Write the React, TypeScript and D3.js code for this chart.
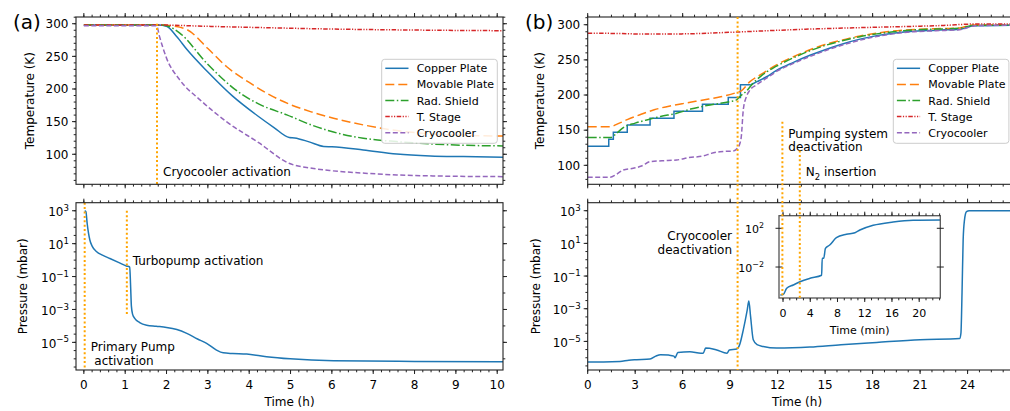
import React from "react";
import * as d3 from "d3";

type P = [number, number];

// ---------- (a) cool-down: time (h) vs temperature (K) ----------
const aCopper: P[] = [[0, 298], [1.8, 298], [2.0, 296], [2.25, 280], [2.5, 260], [3.0, 226], [3.6, 189], [4.2, 159], [4.6, 141], [4.97, 125.6], [5.1, 125], [5.45, 119], [5.8, 112], [6.0, 111.5], [6.76, 106.7], [7.57, 100.5], [8.38, 97.5], [9.18, 96.4], [10.2, 95.4]];
const aMovable: P[] = [[0, 298], [1.9, 298], [2.1, 297], [2.5, 290.8], [3.0, 262], [3.45, 234.5], [4.0, 210], [4.42, 193.6], [5.0, 176], [5.5, 165], [6.04, 155.3], [6.76, 145], [7.57, 136.3], [8.38, 131.2], [9.2, 129], [10.2, 128]];
const aShield: P[] = [[0, 298], [1.85, 298], [2.0, 297], [2.32, 285.7], [2.97, 239.7], [3.78, 193.6], [4.3, 175], [4.91, 160.4], [5.5, 145], [6.04, 134], [6.76, 124.6], [7.57, 119.4], [8.38, 115.9], [9.18, 113.8], [10.2, 112.8]];
const aStage: P[] = [[0, 298], [1.8, 298], [3.0, 296], [4.0, 294.5], [6.04, 291.8], [8.0, 290.3], [10.2, 289.3]];
const aCryo: P[] = [[0, 297], [1.76, 297], [1.83, 280.6], [2.0, 247.3], [2.32, 214], [2.81, 183.4], [3.45, 150], [4.25, 116.9], [4.96, 86.2], [5.52, 78.6], [5.96, 75], [6.8, 71], [7.57, 68.3], [8.5, 66.8], [10.2, 65.7]];

// ---------- (a) pumping: time (h) vs pressure (mbar) ----------
const aPressure: P[] = [[0.02, 1000], [0.05, 890], [0.08, 170], [0.145, 16.6], [0.2, 7.1], [0.31, 3.2], [0.45, 2.0], [0.63, 1.26], [0.85, 0.71], [1.03, 0.44], [1.11, 0.38], [1.13, 0.032], [1.15, 1.6e-3], [1.18, 5e-4], [1.23, 2.9e-4], [1.35, 1.6e-4], [1.52, 1.1e-4], [1.75, 9.5e-5], [2.0, 8.1e-5], [2.25, 6e-5], [2.49, 3.5e-5], [2.75, 1.6e-5], [2.97, 8.7e-6], [3.2, 3.5e-6], [3.37, 2.3e-6], [3.6, 2.1e-6], [3.94, 1.95e-6], [4.42, 1.35e-6], [4.99, 1.0e-6], [6.04, 7.6e-7], [8.0, 6.9e-7], [10.2, 6.6e-7]];

// ---------- (b) warm-up: time (h) vs temperature (K) ----------
const bCopperSteps: P[] = [[0, 127], [1.33, 137], [1.62, 147], [2.5, 157.5], [3.94, 167], [5.45, 177], [7.25, 187], [8.88, 196.5], [9.65, 214.5], [10.3, 214.5]];
const bCopperWarm: P[] = [[10.3, 214.5], [10.7, 219], [11.3, 226], [11.93, 235], [13.0, 246.5], [14.04, 256.5], [15.0, 264.5], [16.15, 273], [17.2, 279.5], [18.26, 284.5], [19.3, 288], [20.36, 290.5], [22.0, 292.3], [23.5, 293.7], [24.4, 298.5], [27, 299.5]];
const bMovable: P[] = [[0, 155], [1.4, 155], [2.0, 160], [2.5, 165], [3.3, 172], [4.2, 179], [5.2, 184.5], [6.3, 189], [7.3, 193], [8.4, 197.5], [9.4, 203.5], [9.7, 206], [10.25, 219], [11.0, 230], [11.93, 243], [13.0, 254.5], [14.04, 264.4], [15.0, 272], [16.15, 278.6], [17.2, 284], [18.26, 288], [19.3, 291], [20.36, 292.9], [22.0, 294.3], [23.5, 295.5], [24.3, 299.5], [27, 300]];
const bShield: P[] = [[0, 139.5], [1.45, 139.5], [1.8, 145], [2.25, 153.7], [3.0, 160], [3.73, 164.6], [4.6, 169.5], [5.62, 174], [6.5, 180], [7.52, 185], [8.99, 190.7], [9.4, 193], [9.62, 198], [10.0, 205], [10.46, 217], [11.0, 228], [11.93, 241], [13.0, 253], [14.04, 263], [15.0, 270.5], [16.15, 277.5], [17.2, 283], [18.26, 287], [19.3, 290], [20.36, 292.3], [22.0, 293.8], [23.5, 295], [24.3, 299], [27, 299.5]];
const bStage: P[] = [[0, 288], [2.0, 287.5], [3.5, 286.7], [6.0, 287], [9.4, 289.6], [11.9, 292], [14.0, 293.8], [16.15, 295.2], [18.3, 296.5], [20.36, 297.6], [22.5, 299], [24.4, 301], [27, 301]];
const bCryo: P[] = [[0, 83], [1.4, 83], [1.8, 87], [2.25, 93.4], [2.88, 95.8], [3.4, 99], [3.94, 105.2], [4.7, 106.5], [5.62, 107.6], [6.4, 111], [7.3, 113.3], [7.8, 117], [8.36, 119.4], [9.2, 120.5], [9.45, 124.3], [9.6, 130], [9.7, 140], [9.83, 179], [10.0, 196], [10.25, 207], [10.67, 214.5], [11.3, 224], [11.93, 233.5], [13.0, 245], [14.04, 254.8], [15.0, 263], [16.15, 271.5], [17.2, 278], [18.26, 283.3], [19.3, 287], [20.36, 289.6], [22.0, 291.5], [23.5, 292.9], [24.5, 298.6], [27, 299.5]];

// ---------- (b) pressure (mbar) ----------
const bPressure: P[] = [[0, 5.5e-7], [1.0, 5.5e-7], [2.04, 5.8e-7], [2.6, 7.1e-7], [3.1, 7.6e-7], [3.94, 8.3e-7], [4.3, 1.26e-6], [4.6, 1.55e-6], [5.1, 1.45e-6], [5.45, 1.26e-6], [5.52, 1.0e-6], [5.7, 2.1e-6], [6.46, 2.35e-6], [7.15, 1.9e-6], [7.3, 1.9e-6], [7.45, 3.9e-6], [7.7, 3.8e-6], [8.15, 3.0e-6], [8.8, 1.9e-6], [8.95, 3.0e-6], [9.41, 3.4e-6], [9.6, 6.3e-6], [9.83, 5.1e-5], [10.08, 8.5e-4], [10.18, 3.0e-3], [10.29, 3.4e-4], [10.46, 1.26e-5], [10.7, 6.3e-6], [11.09, 4.9e-6], [11.93, 3.9e-6], [14.04, 4.5e-6], [16.0, 6.3e-6], [18.26, 8.7e-6], [21.0, 1.26e-5], [23.5, 1.5e-5], [23.58, 3.2e-5], [23.65, 0.01], [23.72, 16], [23.8, 250], [23.93, 870], [24.1, 1000], [27, 1000]];
// inset: time (min) vs pressure (mbar)
const bInset: P[] = [[-0.4, 1.26e-5], [0.05, 1.5e-5], [0.54, 6.3e-5], [1.51, 1.4e-4], [2.49, 3.0e-4], [3.96, 6.8e-4], [5.67, 1.4e-3], [5.76, 0.079], [5.98, 0.079], [6.23, 0.85], [6.86, 1.86], [7.84, 10.7], [9.31, 24], [10.56, 35], [11.29, 66], [13.24, 204], [16.17, 447], [19.1, 676], [23.2, 724]];

// events (h)
const aPrimaryPump = 0.02;
const aTurbo = 1.04;
const aCryoOn = 1.77;
const bCryoOff = 9.47;
const bPumpOff = 12.3;
const bN2 = 13.4;

// legend + ticks
const seriesNames = ["Copper Plate", "Movable Plate", "Rad. Shield", "T. Stage", "Cryocooler"];
const seriesColors = ["#1f77b4", "#ff7f0e", "#2ca02c", "#d62728", "#9467bd"];
const seriesDash = ["", "9,4", "9,2.5,1.5,2.5", "4.5,1.5,1.2,1.5,1.2,1.5", "5,2.5"];
const aXMajor = [0, 1, 2, 3, 4, 5, 6, 7, 8, 9, 10];
const bXMajor = [0, 3, 6, 9, 12, 15, 18, 21, 24];
const tempMajor = [100, 150, 200, 250, 300];
const presMajorExp = [3, 1, -1, -3, -5];
const insetXMajor = [0, 4, 8, 12, 16, 20];
const insetYMajorExp = [2, -2];

const FONT = "DejaVu Sans, Verdana, sans-serif";
const FRAME = "#222";
const VLINE = "#ffa500";

// layout
const LX: P = [76, 503];
const RX: P = [587.7, 1013.8];
const TY: P = [17, 184.3];
const BY: P = [202.7, 370];
const IX: P = [779, 940.3];
const IY: P = [215.7, 298];

const xA = d3.scaleLinear().domain([-0.19, 10.14]).range(LX);
const xB = d3.scaleLinear().domain([0, 26.92]).range(RX);
const yAT = d3.scaleLinear().domain([54, 310.3]).range([TY[1], TY[0]]);
const yBT = d3.scaleLinear().domain([73, 311]).range([TY[1], TY[0]]);
const yAB = d3.scaleLog().domain([10 ** -6.68, 10 ** 3.49]).range([BY[1], BY[0]]);
const yBB = d3.scaleLog().domain([10 ** -6.75, 10 ** 3.49]).range([BY[1], BY[0]]);
const xI = d3.scaleLinear().domain([-0.59, 23.1]).range(IX);
const yI = d3.scaleLog().domain([10 ** -5.2, 10 ** 3.3]).range([IY[1], IY[0]]);

const steps = (a: number, b: number, s: number) => {
  const out: number[] = [];
  for (let i = 0; a + i * s <= b + 1e-9; i++) out.push(+(a + i * s).toFixed(4));
  return out;
};

const inDomain = (sc: any, v: number) => {
  const [a, b] = sc.domain();
  return v >= Math.min(a, b) - 1e-9 && v <= Math.max(a, b) + 1e-9;
};

function xTicks(sc: any, vals: number[], y: number, dir: number, len: number) {
  return vals.filter((v) => inDomain(sc, v)).map((v) => `M${sc(v)},${y}v${dir * len}`).join("");
}
function yTicks(sc: any, vals: number[], x: number, dir: number, len: number) {
  return vals.filter((v) => inDomain(sc, v)).map((v) => `M${x},${sc(v)}h${dir * len}`).join("");
}

const line = (xs: any, ys: any, curve: any = d3.curveMonotoneX) =>
  d3.line<P>().x((d) => xs(d[0])).y((d) => ys(d[1])).curve(curve);

function Sup({ e, size }: { e: number; size: number }) {
  return (
    <>
      10
      <tspan dy={-size * 0.45} fontSize={size * 0.72}>
        {e < 0 ? `\u2212${-e}` : `${e}`}
      </tspan>
    </>
  );
}

function Legend({ x, y }: { x: number; y: number }) {
  return (
    <g>
      <rect x={x} y={y} width={115.6} height={84} rx={3} fill="white" fillOpacity={0.85} stroke="#cccccc" strokeWidth={1} />
      {seriesNames.map((n, i) => {
        const cy = y + 9 + i * 16.1;
        return (
          <g key={n}>
            <line x1={x + 3.6} x2={x + 26.8} y1={cy} y2={cy} stroke={seriesColors[i]} strokeWidth={1.5} strokeDasharray={seriesDash[i]} />
            <text x={x + 35} y={cy + 4} fontSize={11} fontFamily={FONT}>
              {n}
            </text>
          </g>
        );
      })}
    </g>
  );
}

function Frame({ xr, yr }: { xr: P; yr: P }) {
  return <rect x={xr[0]} y={yr[0]} width={xr[1] - xr[0]} height={yr[1] - yr[0]} fill="none" stroke={FRAME} strokeWidth={1.1} />;
}

export default function App() {
  const tempMinor = steps(60, 310, 10);
  const aXMinor = steps(0, 10.2, 0.2);
  const bXMinor = steps(0, 26.25, 0.75);
  const presHalf = steps(-6.5, 3.0, 0.5).map((e) => 10 ** e);
  const presDecade = steps(-6, 3, 1).map((e) => 10 ** e);
  const presMajor = presMajorExp.map((e) => 10 ** e);
  const insetXMinor = steps(0, 23, 1);
  const insetYMajor = insetYMajorExp.map((e) => 10 ** e);

  const aTemps = [aCopper, aMovable, aShield, aStage, aCryo];
  const bTemps = [null, bMovable, bShield, bStage, bCryo];

  const MAJ = 4;
  const MIN = 2.3;
  const tickStyle = { stroke: FRAME, strokeWidth: 1, fill: "none" };

  const vDotted = { stroke: VLINE, strokeWidth: 2, strokeDasharray: "2,2.4" };

  return (
    <div style={{ position: "absolute", left: 0, top: 0 }}>
      <svg width={1010} height={411} style={{ display: "block", background: "white" }} fontFamily={FONT}>
        <defs>
          <clipPath id="cAT"><rect x={LX[0]} y={TY[0]} width={LX[1] - LX[0]} height={TY[1] - TY[0]} /></clipPath>
          <clipPath id="cAB"><rect x={LX[0]} y={BY[0]} width={LX[1] - LX[0]} height={BY[1] - BY[0]} /></clipPath>
          <clipPath id="cBT"><rect x={RX[0]} y={TY[0]} width={RX[1] - RX[0]} height={TY[1] - TY[0]} /></clipPath>
          <clipPath id="cBB"><rect x={RX[0]} y={BY[0]} width={RX[1] - RX[0]} height={BY[1] - BY[0]} /></clipPath>
          <clipPath id="cI"><rect x={IX[0]} y={IY[0]} width={IX[1] - IX[0]} height={IY[1] - IY[0]} /></clipPath>
        </defs>

        {/* ===================== (a) ===================== */}
        <text x={13} y={29} fontSize={20}>(a)</text>

        {/* top: temperatures */}
        <g clipPath="url(#cAT)">
          {aTemps.map((s, i) => (
            <path key={i} d={line(xA, yAT)(s) || ""} fill="none" stroke={seriesColors[i]} strokeWidth={1.5} strokeDasharray={seriesDash[i]} />
          ))}
          <line x1={xA(aCryoOn)} x2={xA(aCryoOn)} y1={yAT(300)} y2={TY[1]} {...vDotted} />
        </g>
        <Frame xr={LX} yr={TY} />
        <path d={xTicks(xA, aXMajor, TY[1], 1, MAJ) + xTicks(xA, aXMajor, TY[0], -1, MAJ)} {...tickStyle} />
        <path d={xTicks(xA, aXMinor, TY[1], 1, MIN) + xTicks(xA, aXMinor, TY[0], -1, MIN)} {...tickStyle} />
        <path d={yTicks(yAT, tempMajor, LX[0], -1, MAJ) + yTicks(yAT, tempMajor, LX[1], 1, MAJ)} {...tickStyle} />
        <path d={yTicks(yAT, tempMinor, LX[0], -1, MIN) + yTicks(yAT, tempMinor, LX[1], 1, MIN)} {...tickStyle} />
        {tempMajor.map((v) => (
          <text key={v} x={LX[0] - 7.5} y={yAT(v) + 4.3} fontSize={12} textAnchor="end">{v}</text>
        ))}
        <text transform={`translate(33.5,${(TY[0] + TY[1]) / 2}) rotate(-90)`} fontSize={12} textAnchor="middle">Temperature (K)</text>
        <text x={163} y={176} fontSize={12}>Cryocooler activation</text>
        <Legend x={381.7} y={59.3} />

        {/* bottom: pressure */}
        <g clipPath="url(#cAB)">
          <path d={line(xA, yAB)(aPressure) || ""} fill="none" stroke={seriesColors[0]} strokeWidth={1.5} />
          <line x1={xA(aPrimaryPump)} x2={xA(aPrimaryPump)} y1={BY[0]} y2={BY[1]} {...vDotted} />
          <line x1={xA(aTurbo)} x2={xA(aTurbo)} y1={yAB(1000)} y2={yAB(5e-4)} {...vDotted} />
        </g>
        <Frame xr={LX} yr={BY} />
        <path d={xTicks(xA, aXMajor, BY[1], 1, MAJ) + xTicks(xA, aXMajor, BY[0], -1, MAJ)} {...tickStyle} />
        <path d={xTicks(xA, aXMinor, BY[1], 1, MIN) + xTicks(xA, aXMinor, BY[0], -1, MIN)} {...tickStyle} />
        <path d={yTicks(yAB, presMajor, LX[0], -1, MAJ) + yTicks(yAB, presMajor, LX[1], 1, MAJ)} {...tickStyle} />
        <path d={yTicks(yAB, presHalf, LX[0], -1, MIN) + yTicks(yAB, presDecade, LX[1], 1, MIN)} {...tickStyle} />
        {presMajorExp.map((e) => (
          <text key={e} x={LX[0] - 7} y={yAB(10 ** e) + 5.5} fontSize={12} textAnchor="end"><Sup e={e} size={12} /></text>
        ))}
        {aXMajor.map((v) => (
          <text key={v} x={xA(v)} y={388.7} fontSize={12} textAnchor="middle">{v}</text>
        ))}
        <text transform={`translate(26.5,${(BY[0] + BY[1]) / 2}) rotate(-90)`} fontSize={12} textAnchor="middle">Pressure (mbar)</text>
        <text x={(LX[0] + LX[1]) / 2} y={405.5} fontSize={12} textAnchor="middle">Time (h)</text>
        <text x={132.7} y={265} fontSize={12}>Turbopump activation</text>
        <text x={90.7} y={350.5} fontSize={12}>Primary Pump</text>
        <text x={94.3} y={364.5} fontSize={12}>activation</text>

        {/* ===================== (b) ===================== */}
        <text x={525} y={29} fontSize={20}>(b)</text>

        <g clipPath="url(#cBT)">
          <path d={line(xB, yBT, d3.curveStepAfter)(bCopperSteps) || ""} fill="none" stroke={seriesColors[0]} strokeWidth={1.5} />
          <path d={line(xB, yBT)(bCopperWarm) || ""} fill="none" stroke={seriesColors[0]} strokeWidth={1.5} />
          {bTemps.map((s, i) =>
            s ? (
              <path key={i} d={line(xB, yBT)(s) || ""} fill="none" stroke={seriesColors[i]} strokeWidth={1.5} strokeDasharray={seriesDash[i]} />
            ) : null
          )}
        </g>
        <Frame xr={RX} yr={TY} />
        <path d={xTicks(xB, bXMajor, TY[1], 1, MAJ) + xTicks(xB, bXMajor, TY[0], -1, MAJ)} {...tickStyle} />
        <path d={xTicks(xB, bXMinor, TY[1], 1, MIN) + xTicks(xB, bXMinor, TY[0], -1, MIN)} {...tickStyle} />
        <path d={yTicks(yBT, tempMajor, RX[0], -1, MAJ)} {...tickStyle} />
        <path d={yTicks(yBT, tempMinor, RX[0], -1, MIN)} {...tickStyle} />
        {tempMajor.map((v) => (
          <text key={v} x={RX[0] - 7.5} y={yBT(v) + 4.3} fontSize={12} textAnchor="end">{v}</text>
        ))}
        <text transform={`translate(543.7,${(TY[0] + TY[1]) / 2}) rotate(-90)`} fontSize={12} textAnchor="middle">Temperature (K)</text>
        <Legend x={893.3} y={59.3} />
        <text x={788.3} y={138.3} fontSize={12}>Pumping system</text>
        <text x={788.3} y={151.3} fontSize={12}>deactivation</text>
        <text x={805.7} y={176} fontSize={12}>
          N<tspan dy={3.5} fontSize={8.5}>2</tspan>
          <tspan dy={-3.5}> insertion</tspan>
        </text>

        <g clipPath="url(#cBB)">
          <path d={line(xB, yBB)(bPressure) || ""} fill="none" stroke={seriesColors[0]} strokeWidth={1.5} />
        </g>
        <Frame xr={RX} yr={BY} />
        <path d={xTicks(xB, bXMajor, BY[1], 1, MAJ) + xTicks(xB, bXMajor, BY[0], -1, MAJ)} {...tickStyle} />
        <path d={xTicks(xB, bXMinor, BY[1], 1, MIN) + xTicks(xB, bXMinor, BY[0], -1, MIN)} {...tickStyle} />
        <path d={yTicks(yBB, presMajor, RX[0], -1, MAJ)} {...tickStyle} />
        <path d={yTicks(yBB, presHalf, RX[0], -1, MIN)} {...tickStyle} />
        {presMajorExp.map((e) => (
          <text key={e} x={RX[0] - 7} y={yBB(10 ** e) + 5.5} fontSize={12} textAnchor="end"><Sup e={e} size={12} /></text>
        ))}
        {bXMajor.map((v) => (
          <text key={v} x={xB(v)} y={388.7} fontSize={12} textAnchor="middle">{v}</text>
        ))}
        <text transform={`translate(540,${(BY[0] + BY[1]) / 2}) rotate(-90)`} fontSize={12} textAnchor="middle">Pressure (mbar)</text>
        <text x={797} y={405.5} fontSize={12} textAnchor="middle">Time (h)</text>
        <text x={732} y={240} fontSize={12} textAnchor="end">Cryocooler</text>
        <text x={732} y={253.5} fontSize={12} textAnchor="end">deactivation</text>

        {/* inset */}
        <rect x={IX[0]} y={IY[0]} width={IX[1] - IX[0]} height={IY[1] - IY[0]} fill="white" />
        <g clipPath="url(#cI)">
          <path d={line(xI, yI)(bInset) || ""} fill="none" stroke={seriesColors[0]} strokeWidth={1.5} />
        </g>
        <rect x={IX[0]} y={IY[0]} width={IX[1] - IX[0]} height={IY[1] - IY[0]} fill="none" stroke="#555" strokeWidth={1.3} />
        <path d={xTicks(xI, insetXMajor, IY[1], 1, MAJ) + xTicks(xI, insetXMajor, IY[0], -1, MAJ)} {...tickStyle} />
        <path d={xTicks(xI, insetXMinor, IY[1], 1, MIN) + xTicks(xI, insetXMinor, IY[0], -1, MIN)} {...tickStyle} />
        <path d={yTicks(yI, insetYMajor, IX[0] - 3.5, 1, 7) + yTicks(yI, insetYMajor, IX[1] - 3.5, 1, 7)} {...tickStyle} />
        {insetXMajor.map((v) => (
          <text key={v} x={xI(v)} y={316.5} fontSize={11} textAnchor="middle">{v}</text>
        ))}
        {insetYMajorExp.map((e) => (
          <text key={e} x={764} y={yI(10 ** e) + 5} fontSize={11} textAnchor="end"><Sup e={e} size={11} /></text>
        ))}
        <text x={(IX[0] + IX[1]) / 2} y={334} fontSize={11} textAnchor="middle">Time (min)</text>

        {/* event lines spanning the (b) panels */}
        <line x1={xB(bCryoOff)} x2={xB(bCryoOff)} y1={TY[0]} y2={BY[1]} {...vDotted} />
        <line x1={xB(bPumpOff)} x2={xB(bPumpOff)} y1={yBT(162)} y2={IY[1]} {...vDotted} />
        <line x1={xB(bN2)} x2={xB(bN2)} y1={yBT(121)} y2={IY[1]} {...vDotted} />
      </svg>
    </div>
  );
}
